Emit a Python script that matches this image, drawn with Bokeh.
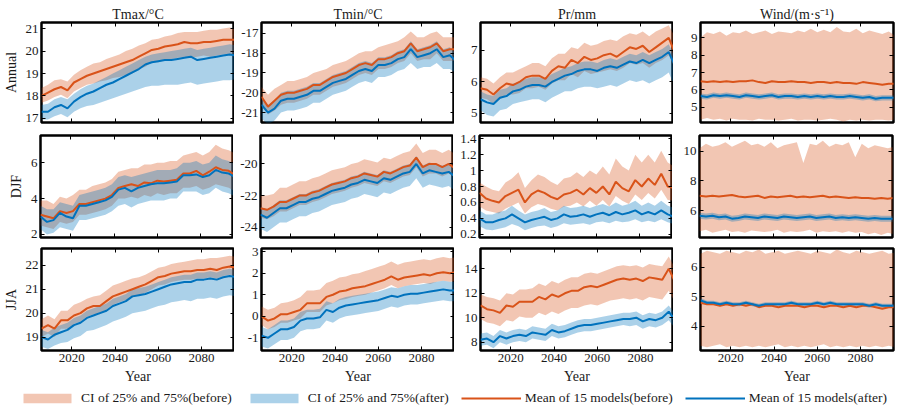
from bokeh.plotting import figure
from bokeh.models import (Range1d, FixedTicker, LinearAxis, CustomJSTickFormatter,
                          Legend, LegendItem, ColumnDataSource)
from bokeh.layouts import column, row
from bokeh.embed import file_html
from bokeh.resources import INLINE

# ---------------- data (3-year steps) ----------------
YEARS = list(range(2006, 2097, 3))

COL_TITLES = ["Tmax/°C", "Tmin/°C", "Pr/mm", "Wind/(m·s⁻¹)"]
ROW_TITLES = ["Annual", "DJF", "JJA"]
X_TICKS = [2020, 2040, 2060, 2080]
LEGEND_LABELS = ["CI of 25% and 75%(before)", "CI of 25% and 75%(after)",
                 "Mean of 15 models(before)", "Mean of 15 models(after)"]

Y_TICKS = [
    [[17, 18, 19, 20, 21], [-21, -20, -19, -18, -17], [5, 6, 7], [5, 6, 7, 8, 9]],
    [[2, 4, 6], [-24, -22, -20], [0.2, 0.4, 0.6, 0.8, 1, 1.2, 1.4], [6, 8, 10]],
    [[19, 20, 21, 22], [-1, 0, 1, 2, 3], [8, 10, 12, 14], [4, 5, 6]],
]
Y_LIMS = [
    [(16.82, 21.27), (-21.5, -16.45), (4.71, 7.89), (4.14, 9.86)],
    [(1.83, 7.52), (-24.65, -18.2), (0.16, 1.44), (4.18, 11.06)],
    [(18.44, 22.7), (-1.59, 3.15), (7.32, 15.66), (3.19, 6.63)],
]

# Annual Tmax
TMAX_ANN_B = [18.0,18.15,18.3,18.4,18.25,18.6,18.75,18.9,19.0,19.1,19.2,19.3,19.4,19.5,19.6,19.75,19.9,20.05,20.1,20.2,20.25,20.3,20.4,20.35,20.35,20.4,20.4,20.45,20.5,20.5,20.5]
TMAX_ANN_B_LO = [17.7,17.8,17.95,18.05,17.9,18.2,18.35,18.5,18.55,18.65,18.7,18.8,18.85,18.95,19.0,19.2,19.3,19.5,19.5,19.6,19.65,19.7,19.75,19.7,19.75,19.8,19.75,19.8,19.85,19.85,19.9]
TMAX_ANN_B_HI = [18.35,18.5,18.7,18.75,18.65,18.95,19.15,19.3,19.45,19.5,19.65,19.75,19.85,20.0,20.1,20.25,20.35,20.5,20.55,20.65,20.7,20.8,20.85,20.85,20.85,20.9,20.95,20.95,21.0,21.05,21.0]
TMAX_ANN_A = [17.3,17.3,17.5,17.6,17.45,17.75,17.95,18.1,18.2,18.35,18.5,18.6,18.75,18.9,19.05,19.2,19.4,19.5,19.55,19.6,19.6,19.65,19.7,19.75,19.6,19.65,19.7,19.75,19.8,19.85,19.8]
TMAX_ANN_A_LO = [16.95,16.95,17.1,17.2,17.05,17.3,17.45,17.55,17.6,17.7,17.8,17.9,18.0,18.1,18.2,18.3,18.4,18.45,18.45,18.5,18.5,18.5,18.55,18.6,18.5,18.55,18.6,18.65,18.7,18.7,18.75]
TMAX_ANN_A_HI = [17.6,17.65,17.85,17.95,17.85,18.1,18.3,18.45,18.55,18.7,18.85,19.0,19.15,19.3,19.45,19.6,19.75,19.85,19.9,19.95,20.0,20.05,20.1,20.15,20.05,20.1,20.15,20.2,20.25,20.3,20.25]

# Annual Tmin
TMIN_ANN_B = [-20.2,-20.7,-20.4,-20.1,-20.0,-20.0,-19.9,-19.8,-19.6,-19.6,-19.4,-19.2,-19.1,-19.0,-18.8,-18.6,-18.5,-18.6,-18.3,-18.3,-18.2,-18.0,-17.9,-17.5,-17.9,-17.8,-17.7,-17.5,-17.9,-17.8,-17.8]
TMIN_ANN_B_LO = [-20.6,-21.1,-20.9,-20.6,-20.5,-20.5,-20.4,-20.3,-20.1,-20.1,-19.9,-19.7,-19.6,-19.5,-19.3,-19.1,-19.0,-19.1,-18.8,-18.8,-18.7,-18.5,-18.4,-18.0,-18.4,-18.3,-18.3,-18.0,-18.4,-18.4,-18.4]
TMIN_ANN_B_HI = [-19.7,-20.1,-19.8,-19.6,-19.4,-19.4,-19.3,-19.2,-19.0,-18.9,-18.8,-18.6,-18.5,-18.4,-18.2,-18.0,-17.9,-17.9,-17.7,-17.6,-17.5,-17.4,-17.2,-16.9,-17.2,-17.2,-17.0,-16.9,-17.2,-17.2,-17.2]
TMIN_ANN_A = [-20.6,-21.0,-20.8,-20.4,-20.3,-20.3,-20.2,-20.1,-19.9,-19.9,-19.7,-19.5,-19.4,-19.3,-19.1,-18.9,-18.8,-18.9,-18.6,-18.6,-18.5,-18.3,-18.2,-17.8,-18.2,-18.1,-18.0,-17.8,-18.2,-18.1,-18.4]
TMIN_ANN_A_LO = [-21.3,-21.6,-21.4,-21.0,-20.9,-20.9,-20.8,-20.7,-20.5,-20.5,-20.3,-20.1,-20.0,-19.9,-19.7,-19.5,-19.4,-19.5,-19.2,-19.2,-19.1,-18.9,-18.8,-18.5,-18.8,-18.7,-18.7,-18.5,-18.8,-18.8,-19.0]
TMIN_ANN_A_HI = [-20.2,-20.6,-20.4,-20.0,-19.9,-19.9,-19.8,-19.7,-19.5,-19.5,-19.3,-19.1,-19.0,-18.9,-18.7,-18.5,-18.4,-18.5,-18.2,-18.2,-18.1,-17.9,-17.8,-17.4,-17.8,-17.7,-17.6,-17.4,-17.8,-17.7,-18.0]

# Annual Pr
PR_ANN_B = [5.8,5.75,5.6,5.8,5.95,5.9,6.0,6.15,6.2,6.2,6.1,6.35,6.5,6.45,6.7,6.6,6.8,6.7,6.75,6.85,6.9,6.8,6.95,7.1,7.05,7.15,6.95,7.1,7.25,7.4,6.9]
PR_ANN_B_LO = [5.5,5.45,5.3,5.45,5.6,5.6,5.65,5.8,5.8,5.85,5.75,5.95,6.05,6.05,6.25,6.15,6.35,6.25,6.3,6.35,6.4,6.35,6.45,6.6,6.55,6.6,6.45,6.6,6.7,6.85,6.4]
PR_ANN_B_HI = [6.15,6.1,5.95,6.15,6.3,6.3,6.4,6.5,6.6,6.6,6.5,6.75,6.9,6.9,7.1,7.05,7.25,7.15,7.2,7.3,7.35,7.3,7.45,7.55,7.5,7.6,7.45,7.6,7.7,7.8,7.4]
PR_ANN_A = [5.45,5.35,5.3,5.5,5.55,5.7,5.75,5.85,5.9,5.9,5.85,6.0,6.1,6.2,6.25,6.35,6.4,6.4,6.35,6.45,6.5,6.45,6.55,6.65,6.6,6.7,6.6,6.7,6.8,6.95,6.5]
PR_ANN_A_LO = [5.1,4.95,4.9,5.1,5.15,5.3,5.35,5.4,5.45,5.45,5.35,5.5,5.6,5.7,5.7,5.8,5.85,5.85,5.8,5.85,5.9,5.85,5.95,6.05,6.0,6.05,5.95,6.05,6.15,6.3,5.8]
PR_ANN_A_HI = [5.7,5.6,5.55,5.75,5.8,5.95,6.0,6.1,6.15,6.15,6.1,6.25,6.35,6.45,6.5,6.6,6.65,6.65,6.6,6.7,6.75,6.7,6.8,6.9,6.85,6.95,6.85,6.95,7.05,7.2,6.75]

# Annual Wind
WIND_ANN_B = [6.5,6.45,6.5,6.45,6.5,6.45,6.5,6.5,6.55,6.45,6.4,6.5,6.45,6.45,6.5,6.45,6.45,6.4,6.45,6.45,6.4,6.45,6.4,6.4,6.35,6.45,6.4,6.35,6.3,6.35,6.35]
WIND_ANN_B_LO = [4.3,4.4,4.3,4.35,4.25,4.35,4.3,4.3,4.25,4.35,4.3,4.3,4.25,4.3,4.35,4.25,4.3,4.3,4.25,4.3,4.35,4.3,4.2,4.3,4.25,4.3,4.25,4.3,4.3,4.25,4.3]
WIND_ANN_B_HI = [9.0,9.3,9.2,9.35,9.1,9.3,9.25,9.4,9.2,9.3,9.4,9.2,9.35,9.3,9.25,9.4,9.3,9.5,9.3,9.45,9.3,9.6,9.35,9.3,9.5,9.25,9.4,9.3,9.2,9.35,9.1]
WIND_ANN_A = [5.65,5.6,5.7,5.65,5.7,5.65,5.6,5.7,5.65,5.6,5.65,5.7,5.6,5.65,5.65,5.6,5.65,5.6,5.65,5.6,5.65,5.6,5.6,5.65,5.6,5.55,5.6,5.5,5.55,5.55,5.55]
WIND_ANN_A_LO = [5.5,5.45,5.55,5.5,5.55,5.5,5.45,5.55,5.5,5.45,5.5,5.55,5.45,5.5,5.5,5.45,5.5,5.45,5.5,5.45,5.5,5.45,5.45,5.5,5.45,5.4,5.45,5.35,5.4,5.4,5.4]
WIND_ANN_A_HI = [5.8,5.75,5.85,5.8,5.85,5.8,5.75,5.85,5.8,5.75,5.8,5.85,5.75,5.8,5.8,5.75,5.8,5.75,5.8,5.75,5.8,5.75,5.75,5.8,5.75,5.7,5.75,5.65,5.7,5.7,5.7]

# DJF Tmax
TMAX_DJF_B = [3.1,3.0,2.9,3.3,3.2,3.3,3.7,3.7,3.8,3.9,4.0,4.2,4.6,4.7,4.8,4.7,4.9,4.85,5.0,4.95,5.0,5.05,5.4,5.4,5.55,5.3,5.5,5.75,5.6,5.55,5.3]
TMAX_DJF_B_LO = [2.5,2.4,2.3,2.7,2.6,2.7,3.1,3.1,3.2,3.3,3.4,3.6,4.0,4.0,4.1,4.0,4.2,4.1,4.3,4.2,4.3,4.3,4.6,4.6,4.7,4.5,4.6,4.8,4.7,4.6,4.4]
TMAX_DJF_B_HI = [3.9,3.9,3.7,4.1,4.0,4.2,4.5,4.5,4.7,4.8,4.9,5.1,5.5,5.6,5.7,5.7,5.9,5.9,6.0,6.0,6.1,6.1,6.4,6.5,6.6,6.4,6.6,7.0,6.8,6.7,6.5]
TMAX_DJF_A = [3.0,2.7,2.8,3.2,3.0,2.9,3.6,3.6,3.7,3.8,3.9,4.1,4.5,4.6,4.4,4.6,4.7,4.8,4.85,4.85,4.9,4.95,5.3,5.3,5.35,5.2,5.3,5.6,5.45,5.4,5.2]
TMAX_DJF_A_LO = [2.3,2.0,2.1,2.4,2.3,2.2,2.8,2.8,2.9,3.0,3.1,3.3,3.6,3.7,3.5,3.7,3.8,3.9,3.9,3.9,4.0,4.0,4.4,4.4,4.4,4.2,4.3,4.6,4.4,4.3,4.1]
TMAX_DJF_A_HI = [3.6,3.4,3.4,3.8,3.7,3.6,4.2,4.3,4.4,4.5,4.6,4.8,5.2,5.3,5.2,5.3,5.4,5.5,5.6,5.6,5.6,5.7,6.0,6.0,6.1,5.9,6.0,6.4,6.2,6.1,5.9]

# DJF Tmin
TMIN_DJF_B = [-22.8,-22.9,-22.7,-22.4,-22.4,-22.2,-22.0,-22.0,-21.8,-21.7,-21.5,-21.3,-21.2,-21.1,-20.9,-20.8,-20.6,-20.7,-20.8,-20.5,-20.6,-20.4,-20.2,-20.1,-19.6,-20.2,-20.0,-20.0,-20.2,-20.0,-20.3]
TMIN_DJF_B_LO = [-23.4,-23.5,-23.3,-23.0,-23.0,-22.8,-22.6,-22.6,-22.4,-22.3,-22.1,-21.9,-21.8,-21.7,-21.5,-21.4,-21.2,-21.3,-21.4,-21.1,-21.2,-21.0,-20.8,-20.7,-20.2,-20.8,-20.6,-20.6,-20.8,-20.6,-20.9]
TMIN_DJF_B_HI = [-22.0,-22.0,-21.9,-21.5,-21.5,-21.3,-21.1,-21.1,-20.9,-20.8,-20.6,-20.4,-20.3,-20.2,-20.0,-19.9,-19.7,-19.8,-19.9,-19.6,-19.7,-19.5,-19.3,-19.2,-18.7,-19.3,-19.1,-19.1,-19.3,-19.1,-19.4]
TMIN_DJF_A = [-23.2,-23.4,-23.1,-22.8,-22.8,-22.6,-22.4,-22.4,-22.2,-22.1,-21.9,-21.7,-21.6,-21.5,-21.3,-21.2,-21.0,-21.1,-21.2,-20.9,-21.0,-20.8,-20.6,-20.5,-20.0,-20.6,-20.4,-20.5,-20.6,-20.5,-20.8]
TMIN_DJF_A_LO = [-24.1,-24.3,-24.0,-23.7,-23.7,-23.5,-23.3,-23.3,-23.1,-23.0,-22.8,-22.6,-22.5,-22.4,-22.2,-22.1,-21.9,-22.0,-22.1,-21.8,-21.9,-21.7,-21.5,-21.4,-20.9,-21.5,-21.3,-21.4,-21.5,-21.4,-21.7]
TMIN_DJF_A_HI = [-22.7,-22.9,-22.6,-22.3,-22.3,-22.1,-21.9,-21.9,-21.7,-21.6,-21.4,-21.2,-21.1,-21.0,-20.8,-20.7,-20.5,-20.6,-20.7,-20.4,-20.5,-20.3,-20.1,-20.0,-19.5,-20.1,-19.9,-20.0,-20.1,-20.0,-20.3]

# DJF Pr
PR_DJF_B = [0.72,0.65,0.62,0.6,0.68,0.72,0.76,0.6,0.7,0.75,0.72,0.67,0.64,0.7,0.72,0.76,0.7,0.78,0.72,0.8,0.7,0.86,0.78,0.74,0.88,0.8,0.9,0.82,0.96,0.8,0.78]
PR_DJF_B_LO = [0.55,0.5,0.48,0.46,0.52,0.56,0.6,0.46,0.54,0.58,0.56,0.52,0.5,0.55,0.56,0.6,0.55,0.62,0.56,0.63,0.55,0.68,0.62,0.58,0.7,0.63,0.72,0.65,0.76,0.63,0.62]
PR_DJF_B_HI = [0.85,0.8,0.76,0.74,0.85,0.9,0.98,0.78,0.88,0.95,0.92,0.86,0.82,0.9,0.92,0.98,0.92,1.0,0.95,1.05,0.95,1.15,1.05,1.0,1.2,1.1,1.2,1.1,1.25,1.1,1.05]
PR_DJF_A = [0.4,0.35,0.35,0.38,0.4,0.45,0.4,0.35,0.38,0.4,0.42,0.38,0.4,0.45,0.42,0.43,0.45,0.42,0.45,0.47,0.44,0.48,0.45,0.47,0.5,0.45,0.48,0.45,0.5,0.45,0.42]
PR_DJF_A_LO = [0.3,0.26,0.25,0.27,0.29,0.33,0.3,0.25,0.28,0.3,0.31,0.28,0.3,0.34,0.32,0.33,0.34,0.32,0.35,0.36,0.34,0.37,0.35,0.36,0.39,0.35,0.37,0.35,0.39,0.35,0.33]
PR_DJF_A_HI = [0.5,0.45,0.45,0.48,0.5,0.56,0.5,0.45,0.48,0.5,0.53,0.48,0.5,0.56,0.53,0.54,0.56,0.53,0.56,0.58,0.55,0.6,0.56,0.58,0.62,0.56,0.6,0.56,0.62,0.56,0.53]

# DJF Wind
WIND_DJF_B = [7.0,6.95,7.0,6.95,7.0,7.05,6.95,6.9,6.95,7.0,6.85,6.95,6.9,6.95,7.0,6.9,6.95,6.9,6.95,7.0,6.9,6.95,6.9,6.85,6.9,6.85,6.85,6.8,6.85,6.8,6.85]
WIND_DJF_B_LO = [4.6,4.7,4.5,4.6,4.7,4.55,4.6,4.5,4.65,4.6,4.55,4.6,4.7,4.5,4.6,4.55,4.6,4.7,4.5,4.6,4.55,4.6,4.5,4.6,4.5,4.55,4.4,4.5,4.35,4.5,4.4]
WIND_DJF_B_HI = [10.2,10.5,10.3,10.4,10.6,10.3,10.5,10.7,10.4,10.5,10.3,10.6,10.2,10.4,10.5,10.6,9.2,10.5,10.4,10.7,10.3,10.5,10.4,10.6,9.6,10.5,10.2,10.4,10.3,10.2,10.3]
WIND_DJF_A = [5.65,5.6,5.65,5.55,5.6,5.45,5.5,5.6,5.55,5.5,5.6,5.55,5.5,5.6,5.55,5.5,5.55,5.6,5.5,5.55,5.6,5.5,5.55,5.5,5.55,5.5,5.45,5.5,5.45,5.45,5.45]
WIND_DJF_A_LO = [5.45,5.4,5.45,5.35,5.4,5.25,5.3,5.4,5.35,5.3,5.4,5.35,5.3,5.4,5.35,5.3,5.35,5.4,5.3,5.35,5.4,5.3,5.35,5.3,5.35,5.3,5.25,5.3,5.25,5.25,5.25]
WIND_DJF_A_HI = [5.85,5.8,5.85,5.75,5.8,5.65,5.7,5.8,5.75,5.7,5.8,5.75,5.7,5.8,5.75,5.7,5.75,5.8,5.7,5.75,5.8,5.7,5.75,5.7,5.75,5.7,5.65,5.7,5.65,5.65,5.65]

# JJA Tmax
TMAX_JJA_B = [19.35,19.5,19.35,19.7,19.7,19.9,20.0,20.2,20.3,20.3,20.5,20.7,20.8,20.9,21.0,21.1,21.2,21.35,21.5,21.55,21.65,21.7,21.75,21.75,21.8,21.8,21.85,21.8,21.9,21.95,21.9]
TMAX_JJA_B_LO = [19.0,19.15,19.0,19.35,19.35,19.55,19.65,19.85,19.95,19.95,20.15,20.35,20.45,20.55,20.65,20.75,20.85,21.0,21.15,21.2,21.3,21.35,21.4,21.4,21.45,21.45,21.5,21.45,21.55,21.6,21.55]
TMAX_JJA_B_HI = [19.75,19.9,19.75,20.1,20.1,20.35,20.45,20.6,20.7,20.75,20.95,21.15,21.25,21.35,21.45,21.5,21.6,21.75,21.9,21.95,22.05,22.1,22.15,22.2,22.25,22.25,22.3,22.3,22.35,22.4,22.35]
TMAX_JJA_A = [19.0,18.9,19.1,19.2,19.3,19.5,19.6,19.8,19.9,20.0,20.1,20.3,20.4,20.5,20.7,20.75,20.8,20.9,21.0,21.1,21.2,21.25,21.3,21.3,21.4,21.4,21.45,21.4,21.5,21.55,21.5]
TMAX_JJA_A_LO = [18.6,18.5,18.65,18.75,18.8,18.95,19.05,19.25,19.3,19.4,19.5,19.65,19.75,19.85,20.0,20.05,20.1,20.2,20.3,20.35,20.45,20.5,20.55,20.5,20.6,20.6,20.65,20.6,20.7,20.75,20.7]
TMAX_JJA_A_HI = [19.3,19.2,19.4,19.5,19.6,19.8,19.9,20.1,20.2,20.3,20.4,20.6,20.7,20.8,21.0,21.05,21.1,21.2,21.3,21.4,21.5,21.55,21.6,21.6,21.7,21.7,21.75,21.7,21.8,21.85,21.8]

# JJA Tmin
TMIN_JJA_B = [0.0,-0.2,-0.1,0.1,0.1,0.2,0.3,0.6,0.6,0.6,0.9,1.0,1.15,1.2,1.3,1.35,1.4,1.5,1.6,1.7,1.85,1.7,1.8,1.85,1.9,1.95,1.9,2.0,2.05,2.0,2.05]
TMIN_JJA_B_LO = [-0.4,-0.6,-0.5,-0.3,-0.3,-0.2,-0.1,0.2,0.2,0.2,0.5,0.6,0.75,0.8,0.9,0.95,1.0,1.1,1.2,1.3,1.45,1.3,1.4,1.45,1.5,1.55,1.5,1.6,1.65,1.6,1.65]
TMIN_JJA_B_HI = [0.45,0.3,0.4,0.6,0.65,0.75,0.9,1.2,1.2,1.25,1.55,1.65,1.8,1.85,1.95,2.0,2.1,2.2,2.3,2.4,2.55,2.4,2.5,2.55,2.6,2.65,2.6,2.7,2.75,2.7,2.75]
TMIN_JJA_A = [-0.9,-1.0,-0.8,-0.6,-0.6,-0.5,-0.2,-0.1,-0.1,-0.05,0.3,0.2,0.4,0.5,0.55,0.6,0.65,0.7,0.75,0.85,0.95,0.9,1.0,1.05,1.05,1.1,1.15,1.2,1.25,1.2,1.2]
TMIN_JJA_A_LO = [-1.4,-1.5,-1.3,-1.1,-1.1,-1.0,-0.7,-0.6,-0.6,-0.55,-0.2,-0.3,-0.1,0.0,0.05,0.1,0.15,0.2,0.25,0.35,0.45,0.4,0.5,0.55,0.55,0.6,0.65,0.7,0.75,0.7,0.7]
TMIN_JJA_A_HI = [-0.5,-0.6,-0.4,-0.2,-0.2,-0.1,0.2,0.3,0.3,0.35,0.7,0.6,0.8,0.9,0.95,1.0,1.05,1.1,1.15,1.25,1.35,1.3,1.4,1.45,1.45,1.5,1.55,1.6,1.65,1.6,1.6]

# JJA Pr
PR_JJA_B = [11.0,10.7,10.6,10.4,11.0,10.9,11.3,11.3,11.3,11.7,11.5,11.9,11.7,12.0,12.2,12.2,12.5,12.6,12.5,12.7,12.9,13.1,13.2,13.1,13.2,13.0,13.3,13.2,13.1,14.0,12.9]
PR_JJA_B_LO = [9.9,9.6,9.5,9.3,9.8,9.7,10.1,10.0,10.0,10.4,10.2,10.5,10.3,10.6,10.8,10.8,11.0,11.1,11.0,11.2,11.4,11.5,11.6,11.5,11.6,11.4,11.7,11.6,11.5,12.2,11.2]
PR_JJA_B_HI = [11.9,11.7,11.6,11.4,12.0,11.9,12.3,12.3,12.4,12.8,12.6,13.0,12.8,13.1,13.3,13.3,13.6,13.7,13.6,13.8,14.0,14.2,14.3,14.2,14.3,14.1,14.4,14.3,14.2,15.0,14.0]
PR_JJA_A = [8.2,8.3,8.0,8.5,8.3,8.5,8.6,8.5,8.8,8.7,8.6,9.0,8.8,8.9,9.1,9.3,9.4,9.4,9.5,9.6,9.7,9.8,9.9,9.9,10.0,9.7,9.9,9.8,10.0,10.5,9.8]
PR_JJA_A_LO = [7.7,7.8,7.5,8.0,7.8,8.0,8.1,8.0,8.3,8.2,8.1,8.5,8.3,8.4,8.6,8.8,8.9,8.9,9.0,9.1,9.2,9.3,9.4,9.3,9.4,9.1,9.3,9.2,9.4,9.8,9.1]
PR_JJA_A_HI = [8.7,8.8,8.5,9.0,8.8,9.0,9.1,9.0,9.3,9.2,9.1,9.5,9.3,9.4,9.6,9.8,9.9,9.9,10.0,10.1,10.2,10.3,10.4,10.4,10.5,10.2,10.4,10.3,10.5,11.0,10.3]

# JJA Wind
WIND_JJA_B = [4.8,4.75,4.75,4.7,4.75,4.7,4.75,4.7,4.75,4.65,4.7,4.7,4.65,4.7,4.7,4.7,4.65,4.7,4.7,4.65,4.7,4.7,4.65,4.7,4.65,4.7,4.7,4.65,4.6,4.65,4.65]
WIND_JJA_B_LO = [3.35,3.3,3.35,3.4,3.3,3.35,3.3,3.35,3.3,3.35,3.3,3.35,3.4,3.3,3.35,3.3,3.35,3.3,3.35,3.4,3.3,3.35,3.3,3.35,3.3,3.35,3.3,3.35,3.3,3.35,3.3]
WIND_JJA_B_HI = [6.45,6.55,6.5,6.45,6.55,6.5,6.45,6.55,6.5,6.6,6.45,6.5,6.55,6.45,6.5,6.55,6.5,6.45,6.55,6.5,6.45,6.6,6.5,6.45,6.55,6.5,6.45,6.5,6.55,6.45,6.5]
WIND_JJA_A = [4.88,4.8,4.8,4.75,4.8,4.75,4.75,4.8,4.75,4.7,4.75,4.75,4.75,4.75,4.8,4.75,4.75,4.75,4.8,4.75,4.8,4.75,4.75,4.75,4.75,4.75,4.7,4.75,4.7,4.7,4.7]
WIND_JJA_A_LO = [4.8,4.73,4.73,4.68,4.73,4.68,4.68,4.73,4.68,4.63,4.68,4.68,4.68,4.68,4.73,4.68,4.68,4.68,4.73,4.68,4.73,4.68,4.68,4.68,4.68,4.68,4.63,4.68,4.63,4.63,4.63]
WIND_JJA_A_HI = [4.96,4.87,4.87,4.82,4.87,4.82,4.82,4.87,4.82,4.77,4.82,4.82,4.82,4.82,4.87,4.82,4.82,4.82,4.87,4.82,4.87,4.82,4.82,4.82,4.82,4.82,4.77,4.82,4.77,4.77,4.77]

PANELS = [
    [(TMAX_ANN_B, TMAX_ANN_B_LO, TMAX_ANN_B_HI, TMAX_ANN_A, TMAX_ANN_A_LO, TMAX_ANN_A_HI),
     (TMIN_ANN_B, TMIN_ANN_B_LO, TMIN_ANN_B_HI, TMIN_ANN_A, TMIN_ANN_A_LO, TMIN_ANN_A_HI),
     (PR_ANN_B, PR_ANN_B_LO, PR_ANN_B_HI, PR_ANN_A, PR_ANN_A_LO, PR_ANN_A_HI),
     (WIND_ANN_B, WIND_ANN_B_LO, WIND_ANN_B_HI, WIND_ANN_A, WIND_ANN_A_LO, WIND_ANN_A_HI)],
    [(TMAX_DJF_B, TMAX_DJF_B_LO, TMAX_DJF_B_HI, TMAX_DJF_A, TMAX_DJF_A_LO, TMAX_DJF_A_HI),
     (TMIN_DJF_B, TMIN_DJF_B_LO, TMIN_DJF_B_HI, TMIN_DJF_A, TMIN_DJF_A_LO, TMIN_DJF_A_HI),
     (PR_DJF_B, PR_DJF_B_LO, PR_DJF_B_HI, PR_DJF_A, PR_DJF_A_LO, PR_DJF_A_HI),
     (WIND_DJF_B, WIND_DJF_B_LO, WIND_DJF_B_HI, WIND_DJF_A, WIND_DJF_A_LO, WIND_DJF_A_HI)],
    [(TMAX_JJA_B, TMAX_JJA_B_LO, TMAX_JJA_B_HI, TMAX_JJA_A, TMAX_JJA_A_LO, TMAX_JJA_A_HI),
     (TMIN_JJA_B, TMIN_JJA_B_LO, TMIN_JJA_B_HI, TMIN_JJA_A, TMIN_JJA_A_LO, TMIN_JJA_A_HI),
     (PR_JJA_B, PR_JJA_B_LO, PR_JJA_B_HI, PR_JJA_A, PR_JJA_A_LO, PR_JJA_A_HI),
     (WIND_JJA_B, WIND_JJA_B_LO, WIND_JJA_B_HI, WIND_JJA_A, WIND_JJA_A_LO, WIND_JJA_A_HI)],
]

# ---------------- styling ----------------
FONT = "Liberation Serif"
TXT = "#1a1a1a"
C_B = "#D95319"
C_A = "#0072BD"
FILL_ALPHA = 0.33
FRAME_W = 193
FRAME_H = [100, 102, 102]
BORDER_L = [40, 27, 26, 27]
BORDER_R = [0, 0, 0, 13]
BORDER_T = [22, 6, 5]
BORDER_B = [7, 6, 38]
TICK_FMT = "return tick.toString();"


def tick_axis(ticks, with_labels, axis_label=None):
    ax = LinearAxis(ticker=FixedTicker(ticks=ticks))
    ax.axis_line_color = None
    ax.major_tick_in = 4
    ax.major_tick_out = 0
    ax.major_tick_line_color = "black"
    ax.major_tick_line_width = 1
    ax.minor_tick_line_color = None
    ax.major_label_standoff = 3
    if with_labels:
        ax.formatter = CustomJSTickFormatter(code=TICK_FMT)
        ax.major_label_text_font = FONT
        ax.major_label_text_font_size = "13px"
        ax.major_label_text_color = TXT
    else:
        # ticks only: no label text is painted and no space is reserved
        ax.major_label_text_color = None
        ax.major_label_standoff = 0
    if axis_label:
        ax.axis_label = axis_label
        ax.axis_label_text_font = FONT
        ax.axis_label_text_font_size = "14px"
        ax.axis_label_text_font_style = "normal"
        ax.axis_label_text_color = TXT
        ax.axis_label_standoff = 4
    return ax


sources = []
rows = []
for r in range(3):
    figs = []
    for c in range(4):
        mb, lob, hib, ma, loa, hia = PANELS[r][c]
        src = ColumnDataSource(dict(x=YEARS, mb=mb, lob=lob, hib=hib,
                                    ma=ma, loa=loa, hia=hia))
        sources.append(src)
        p = figure(frame_width=FRAME_W, frame_height=FRAME_H[r],
                   x_range=Range1d(2006, 2095.2), y_range=Range1d(*Y_LIMS[r][c]),
                   output_backend="svg", toolbar_location=None,
                   x_axis_location=None, y_axis_location=None,
                   title=COL_TITLES[c] if r == 0 else None,
                   min_border_left=BORDER_L[c], min_border_right=BORDER_R[c],
                   min_border_top=BORDER_T[r], min_border_bottom=BORDER_B[r])
        p.grid.grid_line_color = None
        p.outline_line_color = "black"
        p.outline_line_width = 2.5
        p.background_fill_color = "white"
        p.border_fill_color = "white"
        if r == 0:
            p.title.align = "center"
            p.title.text_font = FONT
            p.title.text_font_size = "14px"
            p.title.text_font_style = "normal"
            p.title.text_color = TXT
            p.title.standoff = 2

        p.varea(x="x", y1="lob", y2="hib", source=src,
                fill_color=C_B, fill_alpha=FILL_ALPHA)
        p.varea(x="x", y1="loa", y2="hia", source=src,
                fill_color=C_A, fill_alpha=FILL_ALPHA)
        p.line(x="x", y="mb", source=src, line_color=C_B, line_width=2)
        p.line(x="x", y="ma", source=src, line_color=C_A, line_width=2)

        p.add_layout(tick_axis(Y_TICKS[r][c], True,
                               ROW_TITLES[r] if c == 0 else None), "left")
        p.add_layout(tick_axis(Y_TICKS[r][c], False), "right")
        p.add_layout(tick_axis(X_TICKS, False), "above")
        p.add_layout(tick_axis(X_TICKS, r == 2, "Year" if r == 2 else None), "below")
        figs.append(p)
    rows.append(row(*figs))

# ---------------- legend strip ----------------
# legend renderers reuse a panel's data but sit outside this strip's ranges,
# so only their legend swatches are visible
lf = figure(width=905, height=22, output_backend="svg", toolbar_location=None,
            x_axis_location=None, y_axis_location=None, min_border=0,
            x_range=Range1d(0, 1), y_range=Range1d(0, 1))
lf.grid.grid_line_color = None
lf.outline_line_color = None
ls = sources[0]
g1 = lf.varea(x="x", y1="lob", y2="hib", source=ls, fill_color=C_B, fill_alpha=FILL_ALPHA)
g2 = lf.varea(x="x", y1="loa", y2="hia", source=ls, fill_color=C_A, fill_alpha=FILL_ALPHA)
g3 = lf.line(x="x", y="mb", source=ls, line_color=C_B, line_width=2)
g4 = lf.line(x="x", y="ma", source=ls, line_color=C_A, line_width=2)
legend = Legend(items=[LegendItem(label=LEGEND_LABELS[0], renderers=[g1]),
                       LegendItem(label=LEGEND_LABELS[1], renderers=[g2]),
                       LegendItem(label=LEGEND_LABELS[2], renderers=[g3]),
                       LegendItem(label=LEGEND_LABELS[3], renderers=[g4])],
                orientation="horizontal", location=(17, 4),
                glyph_width=60, glyph_height=12, label_standoff=4, spacing=12,
                padding=0, margin=0, border_line_color=None,
                background_fill_alpha=0,
                label_text_font=FONT, label_text_font_size="13.5px",
                label_text_color=TXT)
lf.add_layout(legend)

layout = column(*rows, lf)
open("out.html", "w").write(file_html(layout, INLINE))
